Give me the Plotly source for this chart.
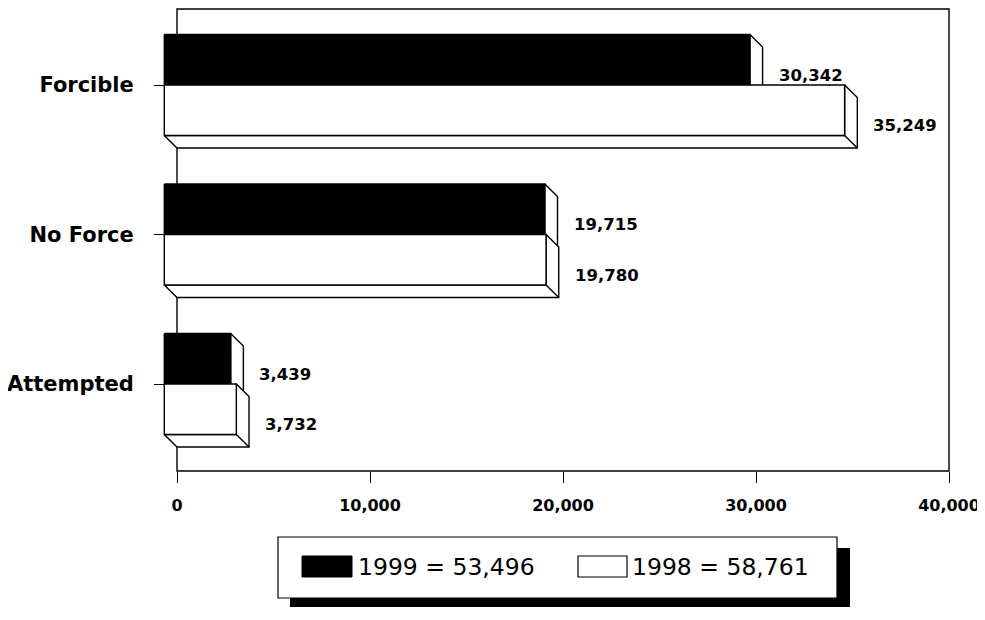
import plotly.graph_objects as go

# data
categories = ["Forcible", "No Force", "Attempted"]
rapes_1999 = [30342, 19715, 3439]
rapes_1998 = [35249, 19780, 3732]
x_ticks = [0, 10000, 20000, 30000, 40000]

BLACK = "#000000"
WHITE = "#ffffff"

# page body has an 8px margin, so everything is laid out 8px up/left
OFF = 8
W, H = 985 - OFF, 620 - OFF

# pixel frame of the plot area (reference coordinates)
PL, PR, PT, PB = 150, 949, 8, 471
X0_PX = 177                      # where zero sits
XMAX = 40000
XMIN = -(X0_PX - PL) / (PR - X0_PX) * XMAX
UNIT = 149.5                     # px per category step
YTOP = -(85 - PT) / UNIT
YBOT = (PB - 85) / UNIT

# fake 3-D extrusion (front face pushed left/up, depth goes right/down)
DX = 12.7 / (PR - X0_PX) * XMAX
DY = 12.5 / UNIT
BAR_H = 50.5 / UNIT


def px(x):
    return (x - PL) / (PR - PL)


def py(y):
    return (PB - y) / (PB - PT)


def bar_traces(v, top, fill, name, cat):
    bot = top + BAR_H
    depth = go.Scatter(
        x=[-DX, 0, v, v, v - DX, v - DX, -DX, None, v - DX, v],
        y=[bot, bot + DY, bot + DY, top + DY, top, bot, bot, None, bot, bot + DY],
        mode="lines", fill="toself", fillcolor=WHITE,
        line=dict(color=BLACK, width=1.4),
        hoverinfo="skip", showlegend=False,
    )
    front = go.Scatter(
        x=[-DX, v - DX, v - DX, -DX, -DX],
        y=[top, top, bot, bot, top],
        mode="lines", fill="toself", fillcolor=fill,
        line=dict(color=BLACK, width=1.4),
        name=name, showlegend=False, hoveron="fills",
        text=f"{cat} {name}: {v:,}", hoverinfo="text",
    )
    return [depth, front]


fig = go.Figure()
for i, cat in enumerate(categories):
    fig.add_traces(bar_traces(rapes_1999[i], i - BAR_H, BLACK, "1999", cat))
    fig.add_traces(bar_traces(rapes_1998[i], i, WHITE, "1998", cat))

# value labels beside each bar's depth face
for i in range(len(categories)):
    for v, mid in ((rapes_1999[i], i - BAR_H / 2), (rapes_1998[i], i + BAR_H / 2)):
        fig.add_annotation(
            x=v, y=mid + DY, text=f"{v:,}", showarrow=False,
            xanchor="left", yanchor="middle", xshift=14, yshift=-3,
            font=dict(family="DejaVu Sans", size=16.5, color=BLACK, weight="bold"),
        )

# frame round the plot
fig.add_shape(
    type="rect", xref="paper", yref="paper",
    x0=px(X0_PX), x1=1, y0=0, y1=py(9),
    line=dict(color=BLACK, width=1.4), layer="below",
)

# legend box with drop shadow
tot_99 = sum(rapes_1999)
tot_98 = sum(rapes_1998)
fig.add_shape(type="rect", xref="paper", yref="paper",
              x0=px(290), x1=px(850), y0=py(607), y1=py(548),
              fillcolor=BLACK, line=dict(width=0))
fig.add_shape(type="rect", xref="paper", yref="paper",
              x0=px(278), x1=px(837), y0=py(598), y1=py(537),
              fillcolor=WHITE, line=dict(color=BLACK, width=1.2))
fig.add_shape(type="rect", xref="paper", yref="paper",
              x0=px(302), x1=px(352), y0=py(577), y1=py(556),
              fillcolor=BLACK, line=dict(color=BLACK, width=1))
fig.add_shape(type="rect", xref="paper", yref="paper",
              x0=px(578), x1=px(627), y0=py(577), y1=py(556),
              fillcolor=WHITE, line=dict(color=BLACK, width=1.2))
for x_left, txt in ((356, f"1999 = {tot_99:,}"), (630, f"1998 = {tot_98:,}")):
    fig.add_annotation(
        xref="paper", yref="paper", x=px(x_left), y=py(567), text=txt,
        showarrow=False, xanchor="left", yanchor="middle",
        font=dict(family="DejaVu Sans", size=23.5, color=BLACK),
    )

fig.update_xaxes(
    range=[XMIN, XMAX], tickvals=x_ticks, tickformat=",",
    ticks="outside", ticklen=11, tickwidth=1.4, tickcolor=BLACK,
    ticklabelstandoff=9, showgrid=False, zeroline=False, showline=False,
    tickfont=dict(family="DejaVu Sans", size=16, color=BLACK, weight="bold"),
)
fig.update_yaxes(
    range=[YBOT, YTOP], tickvals=list(range(len(categories))), ticktext=categories,
    anchor="free", position=px(X0_PX), layer="below traces",
    ticks="outside", ticklen=23, tickwidth=1.4, tickcolor=BLACK,
    ticklabelstandoff=16, showgrid=False, zeroline=False, showline=False,
    tickfont=dict(family="DejaVu Sans", size=21, color=BLACK, weight="bold"),
)
fig.update_layout(
    width=W, height=H,
    margin=dict(l=PL - OFF, r=985 - PR, t=PT - OFF, b=620 - PB, pad=0),
    plot_bgcolor=WHITE, paper_bgcolor=WHITE,
    showlegend=False,
)

fig.write_html("out.html")
